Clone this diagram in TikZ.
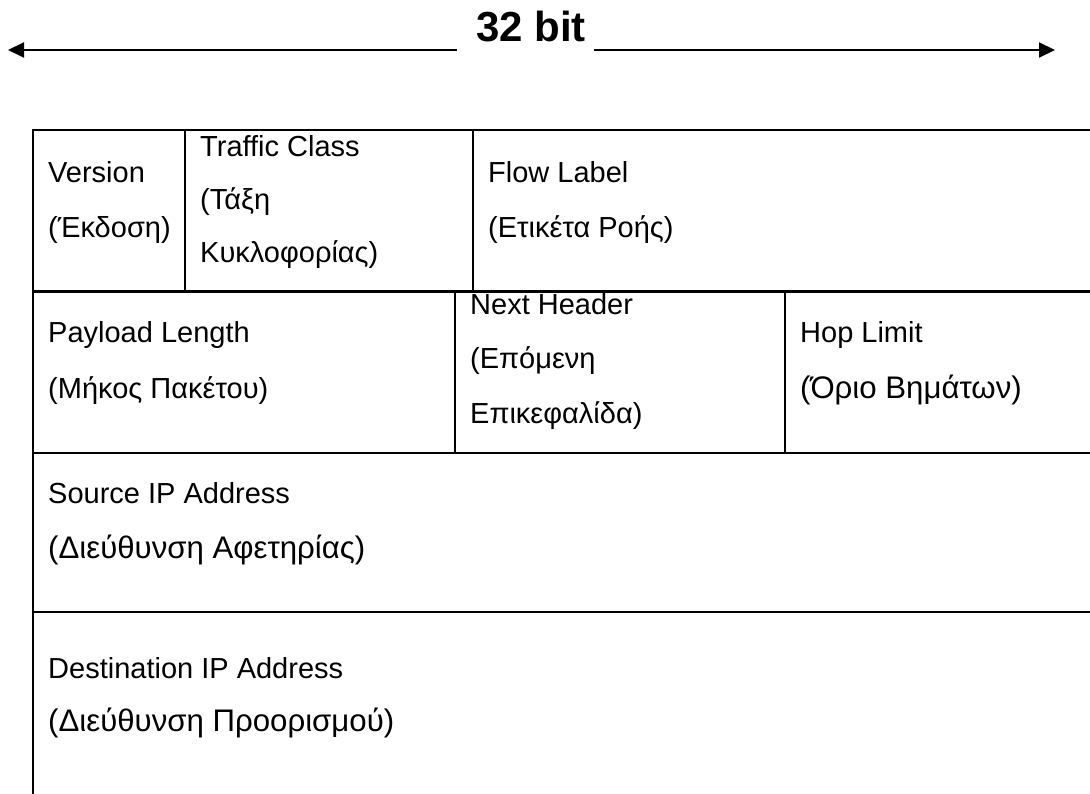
\documentclass[tikz,border=0pt]{standalone}
\usepackage{fontspec}
\setmainfont{Liberation Sans}
\usetikzlibrary{arrows.meta}
\tikzset{
  rule/.style={line width=2.8pt},
  field/.style={anchor=base west, inner sep=0pt, font=\fontsize{29}{29}\selectfont},
  fieldbig/.style={anchor=base west, inner sep=0pt, font=\fontsize{31.2}{31.2}\selectfont},
  widtharrow/.style={line width=2pt, -{Triangle[length=16pt,width=15pt]}},
}
\begin{document}
\begin{tikzpicture}[x=1pt, y=-1pt]
  \useasboundingbox (0,0) rectangle (1090,794);

  % width marker
  \node[anchor=base, inner sep=0pt, font=\fontsize{42}{42}\selectfont\bfseries] (title) at (531,42) {32 bit};
  \coordinate (lstart) at (457,50);
  \coordinate (ltip) at (8,50);
  \coordinate (rstart) at (594,50);
  \coordinate (rtip) at (1055,50);
  \draw[widtharrow] (lstart) -- (ltip);
  \draw[widtharrow] (rstart) -- (rtip);

  % header grid
  \draw[rule] (1100,130) -- (33,130) -- (33,800);
  \draw[rule] (33,291.5) -- (1100,291.5);
  \draw[rule] (33,453) -- (1100,453);
  \draw[rule] (33,612) -- (1100,612);
  \draw[rule] (185,130) -- (185,291.5);
  \draw[rule] (473,130) -- (473,291.5);
  \draw[rule] (455,291.5) -- (455,453);
  \draw[rule] (785,291.5) -- (785,453);

  % row 1
  \node[field] (ver1) at (48,183) {Version};
  \node[field] (ver2) at (48,238) {(Έκδοση)};
  \node[field] (tc1) at (200,157) {Traffic Class};
  \node[field] (tc2) at (200,210) {(Τάξη};
  \node[field] (tc3) at (200,263) {Κυκλοφορίας)};
  \node[field] (fl1) at (488,183) {Flow Label};
  \node[field] (fl2) at (488,238) {(Ετικέτα Ροής)};

  % row 2
  \node[field] (pl1) at (48,343) {Payload Length};
  \node[field] (pl2) at (48,398) {(Μήκος Πακέτου)};
  \node[field] (nh1) at (470,315) {Next Header};
  \node[field] (nh2) at (470,369) {(Επόμενη};
  \node[field] (nh3) at (470,423) {Επικεφαλίδα)};
  \node[field] (hl1) at (800,343) {Hop Limit};
  \node[fieldbig] (hl2) at (800,398) {(Όριο Βημάτων)};

  % row 3
  \node[field] (src1) at (48,503) {Source IP Address};
  \node[fieldbig] (src2) at (48,558) {(Διεύθυνση Αφετηρίας)};

  % row 4
  \node[field] (dst1) at (48,678) {Destination IP Address};
  \node[fieldbig] (dst2) at (48,731) {(Διεύθυνση Προορισμού)};
\end{tikzpicture}
\end{document}
